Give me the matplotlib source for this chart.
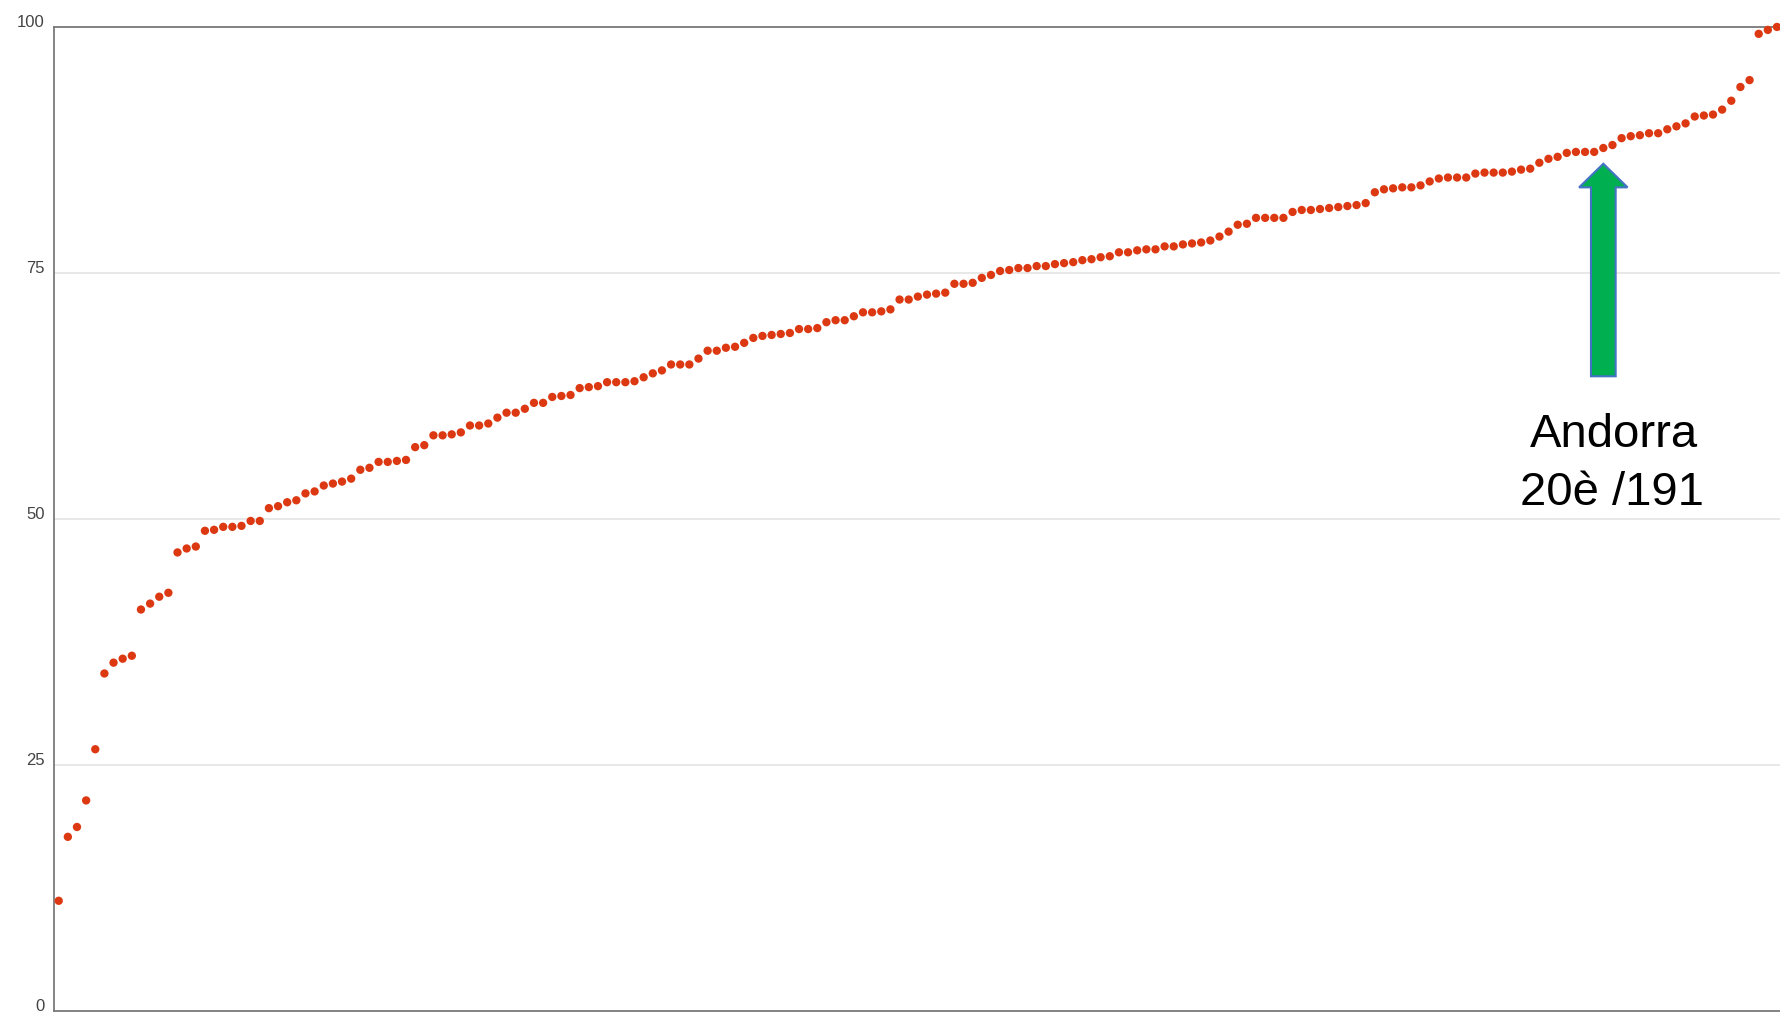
import numpy as np
import matplotlib
matplotlib.use("Agg")
import matplotlib.pyplot as plt
from matplotlib.patches import FancyArrow
from matplotlib import transforms

plt.rcParams['font.family'] = ['Liberation Sans', 'DejaVu Sans']

# sorted scores per country (visible points, lowest to highest)
scores = [
    11.2, 17.7, 18.7, 21.4, 26.6, 34.3, 35.4, 35.8, 36.1, 40.8,
    41.4, 42.1, 42.5, 46.6, 47.0, 47.2, 48.8, 48.9, 49.2, 49.2,
    49.3, 49.8, 49.8, 51.1, 51.3, 51.7, 51.9, 52.6, 52.8, 53.4,
    53.6, 53.8, 54.1, 55.0, 55.2, 55.8, 55.8, 55.9, 56.0, 57.3,
    57.5, 58.5, 58.5, 58.6, 58.8, 59.5, 59.5, 59.7, 60.3, 60.8,
    60.8, 61.2, 61.8, 61.8, 62.4, 62.5, 62.6, 63.3, 63.4, 63.5,
    63.9, 63.9, 63.9, 64.0, 64.4, 64.8, 65.1, 65.7, 65.7, 65.7,
    66.3, 67.1, 67.1, 67.4, 67.5, 67.9, 68.4, 68.6, 68.7, 68.8,
    68.9, 69.3, 69.3, 69.4, 70.0, 70.2, 70.2, 70.6, 71.0, 71.0,
    71.1, 71.3, 72.3, 72.3, 72.6, 72.8, 72.9, 73.0, 73.9, 73.9,
    74.0, 74.5, 74.8, 75.2, 75.3, 75.5, 75.5, 75.7, 75.7, 75.9,
    76.0, 76.1, 76.3, 76.4, 76.6, 76.7, 77.1, 77.1, 77.3, 77.4,
    77.4, 77.7, 77.7, 77.9, 78.0, 78.1, 78.3, 78.7, 79.2, 79.9,
    80.0, 80.6, 80.6, 80.6, 80.6, 81.2, 81.4, 81.4, 81.5, 81.6,
    81.7, 81.8, 81.9, 82.1, 83.2, 83.5, 83.6, 83.7, 83.7, 83.9,
    84.3, 84.6, 84.7, 84.7, 84.7, 85.1, 85.2, 85.2, 85.2, 85.3,
    85.5, 85.6, 86.2, 86.6, 86.8, 87.2, 87.3, 87.3, 87.3, 87.7,
    88.0, 88.7, 88.9, 89.0, 89.2, 89.2, 89.6, 89.9, 90.2, 90.9,
    91.0, 91.1, 91.6, 92.5, 93.9, 94.6, 99.3, 99.7, 100.0,
]
y_ticks = [0, 25, 50, 75, 100]
andorra_idx = 169
label_lines = ["Andorra", "20è /191"]

x = np.arange(len(scores))

fig = plt.figure(figsize=(17.81, 10.17), dpi=100)
ax = fig.add_axes([0.0306, 0.0059, 0.9694, 0.9676])

ax.scatter(x, scores, s=36, color='#dc3912', edgecolors='none', zorder=3, clip_on=False)

ax.set_xlim(-0.46, len(scores) - 1 + 0.44)
ax.set_ylim(0, 100)
ax.set_yticks(y_ticks)
ax.set_xticks([])
ax.tick_params(axis='y', length=0, pad=7, labelsize=12, labelcolor='#444444')
# labels sit slightly above their gridline
off = transforms.ScaledTranslation(0, 4 / 72, fig.dpi_scale_trans)
for lbl in ax.get_yticklabels():
    lbl.set_transform(lbl.get_transform() + off)

ax.grid(axis='y', color='#e4e4e4', lw=1.2, zorder=0)
ax.set_axisbelow(True)
for side in ['left', 'bottom', 'top']:
    ax.spines[side].set_color('#7a7a7a')
    ax.spines[side].set_linewidth(1.3)
ax.spines['right'].set_visible(False)

# green block arrow pointing at Andorra
tip_y = scores[andorra_idx] - 1.6
arr = FancyArrow(andorra_idx, 64.5, 0, tip_y - 64.5, width=2.7,
                 head_width=5.3, head_length=2.4, length_includes_head=True,
                 fc='#00b050', ec='#4472c4', lw=1.5, zorder=4)
ax.add_patch(arr)

ax.text(andorra_idx + 1.2, 57.3, label_lines[0], ha='center', va='baseline',
        fontsize=34, color='black')
ax.text(andorra_idx + 0.9, 51.4, label_lines[1], ha='center', va='baseline',
        fontsize=34, color='black')

fig.savefig('out.png', dpi=100)
